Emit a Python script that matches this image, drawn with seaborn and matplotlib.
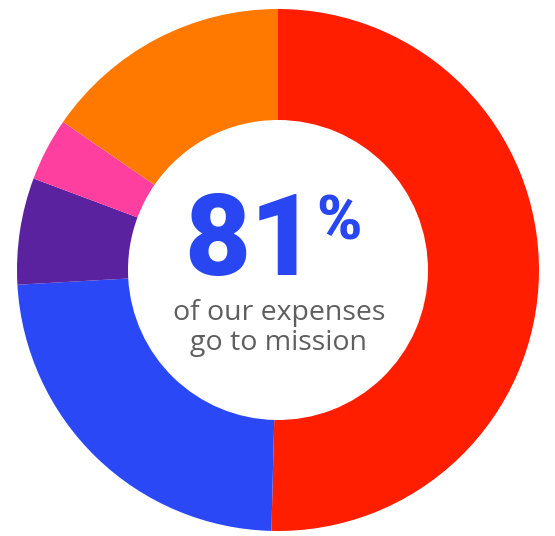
import matplotlib.pyplot as plt
import seaborn as sns

# expense shares, clockwise from 12 o'clock
categories = ['Programs', 'Services', 'Outreach', 'Events', 'Fundraising & admin']
shares = [50.4, 23.7, 6.6, 3.9, 15.4]
colors = ['#FF1E00', '#2B48F6', '#5B22A0', '#FF3FA0', '#FF7800']
headline = '81'
caption = 'of our expenses\ngo to mission'

sns.set_theme(style='white')
plt.rcParams['font.family'] = ['Roboto', 'DejaVu Sans']

fig = plt.figure(figsize=(5.55, 5.36), dpi=100)
ax = fig.add_axes([0, 0, 1, 1])

ax.pie(shares, labels=None, colors=sns.color_palette(colors),
       startangle=90, counterclock=False, radius=261, center=(278, 266),
       wedgeprops=dict(width=111, linewidth=0))
ax.set_xlim(0, 555)
ax.set_ylim(0, 536)
ax.set_aspect('equal')
ax.axis('off')

# y values are from the bottom of the picture
ax.text(316, 292, headline, ha='right', va='center', fontsize=82,
        fontweight='black', color='#2846F2')
ax.text(316, 313, '%', ha='left', va='center', fontsize=44,
        fontweight='black', color='#2846F2')
ax.text(279, 208, caption, ha='center', va='center', fontsize=20.5,
        color='#5f5f5f', linespacing=1.05, fontweight='medium',
        family=['Open Sans', 'DejaVu Sans'])

fig.savefig('out.png', dpi=100, facecolor='white')
